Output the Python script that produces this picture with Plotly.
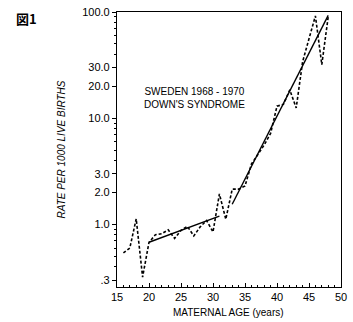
import plotly.graph_objects as go
import numpy as np

# Observed rates (dashed)
ages = list(range(16, 49))
rates = [0.54, 0.60, 1.13, 0.32, 0.68, 0.80, 0.82, 0.89, 0.74, 0.88,
         0.96, 0.78, 0.95, 1.09, 0.85, 1.94, 1.12, 2.15, 2.15, 2.3,
         3.7, 4.6, 5.6, 7.2, 13.0, 13.5, 18.5, 12.5, 34.0, 56.0,
         92.0, 32.0, 90.0]

# Fitted segments (solid)
fit1_age = [20, 31]
fit1_rate = [0.68, 1.2]
fit2_age = [33, 48]
fit2_rate = [1.55, 93.0]

y_tickvals = [0.3, 1, 2, 3, 10, 20, 30, 100]
y_ticktext = [".3", "1.0", "2.0", "3.0", "10.0", "20.0", "30.0", "100.0"]
x_tickvals = [15, 20, 25, 30, 35, 40, 45, 50]

FONT = "Liberation Sans"
L, R, T, B = 117, 6, 10, 35
W, H = 353, 322
pw, ph = W - L - R, H - T - B

fig = go.Figure()
fig.add_trace(go.Scatter(x=ages, y=rates, mode="lines",
                         line=dict(color="black", width=1.6, dash="3px,2px"),
                         showlegend=False))
fig.add_trace(go.Scatter(x=fit1_age, y=fit1_rate, mode="lines",
                         line=dict(color="black", width=1.4), showlegend=False))
fig.add_trace(go.Scatter(x=fit2_age, y=fit2_rate, mode="lines",
                         line=dict(color="black", width=1.4), showlegend=False))

minor_y = [v * m for m in (0.1, 1, 10) for v in range(2, 10)] + [0.3]
minor_y = sorted(set([round(v, 3) for v in minor_y if 0.26 <= v <= 100]))

fig.update_layout(
    width=W, height=H,
    margin=dict(l=L, r=R, t=T, b=B),
    paper_bgcolor="white", plot_bgcolor="white",
    font=dict(family=FONT, color="black", size=11),
    xaxis=dict(range=[15, 50], tickvals=x_tickvals, ticks="inside", ticklen=4,
               tickwidth=1, tickcolor="black",
               showline=True, linecolor="black", linewidth=1.2, mirror=True,
               showgrid=False, zeroline=False,
               minor=dict(tickvals=list(range(16, 50)), ticks="inside", ticklen=2,
                          tickcolor="black", showgrid=False),
               tickfont=dict(size=11)),
    yaxis=dict(type="log", range=[np.log10(0.258), 2.0],
               tickvals=y_tickvals, ticktext=y_ticktext, ticks="outside", ticklen=4,
               tickwidth=1, tickcolor="black",
               showline=True, linecolor="black", linewidth=1.2, mirror=True,
               showgrid=False, zeroline=False,
               minor=dict(tickvals=minor_y, ticks="outside", ticklen=2,
                          tickcolor="black", showgrid=False),
               tickfont=dict(size=11),
               title=dict(text="<i>RATE PER 1000 LIVE BIRTHS</i>", font=dict(size=10),
                          standoff=14)),
    annotations=[
        dict(text="SWEDEN 1968 - 1970<br>DOWN'S SYNDROME", x=(197 - L) / pw,
             y=(H - B - 97) / ph,
             xref="paper", yref="paper", showarrow=False, align="center",
             xanchor="center", yanchor="middle",
             font=dict(size=10, family=FONT)),
        dict(text="MATERNAL AGE (years)", x=(231 - L) / pw, y=(H - B - 313) / ph,
             xref="paper", yref="paper", showarrow=False,
             xanchor="center", yanchor="middle", font=dict(size=10, family=FONT)),
        dict(text="<b>図1</b>", x=(24 - L) / pw, y=(H - B - 17) / ph,
             xref="paper", yref="paper", showarrow=False,
             xanchor="center", yanchor="middle",
             font=dict(size=13, family="Noto Sans CJK JP")),
    ],
)
fig.write_html("out.html", config={"displayModeBar": False},
               post_script="document.body.style.margin='0';document.body.style.overflow='hidden';")
